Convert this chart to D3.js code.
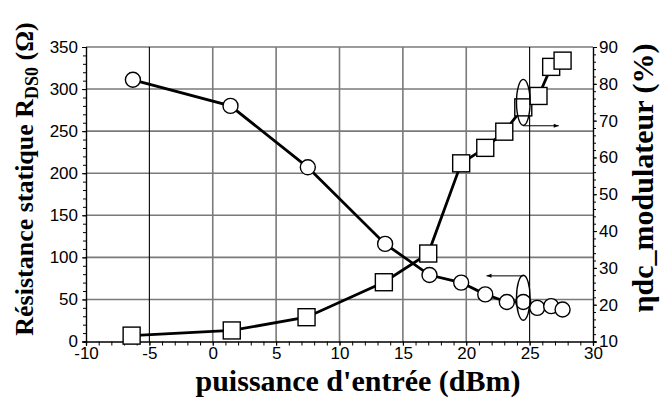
<!DOCTYPE html>
<html>
<head>
<meta charset="utf-8">
<script src="https://cdn.jsdelivr.net/npm/d3@7"></script>
<style>
  body { margin: 0; background: #fff; }
  .tick text { font-family: 'Liberation Sans', Arial, sans-serif; font-size: 17px; fill: #000; }
  .axis-name { font-family: 'Liberation Serif', 'Times New Roman', serif; font-weight: bold; fill: #000; }
</style>
</head>
<body>
<div id="chart"></div>
<script>
// input power (dBm) and static resistance (ohm) - circles, left axis
const pinR = [-6.3, 1.4, 7.5, 13.6, 17.1, 19.6, 21.5, 23.2, 24.5, 25.6, 26.7, 27.6];
const resistance = [311, 280, 207, 116, 79, 70, 56, 47, 47, 40, 42, 38];

// input power (dBm) and modulator efficiency (%) - squares, right axis
const pinEta = [-6.4, 1.5, 7.4, 13.5, 17.0, 19.6, 21.5, 23.0, 24.5, 25.7, 26.7, 27.6];
const efficiency = [11.6, 13.0, 16.6, 26.1, 33.9, 58.4, 62.6, 67.0, 73.6, 76.7, 84.6, 86.3];

const xTicks = [-10, -5, 0, 5, 10, 15, 20, 25, 30];
const yLeftTicks = [0, 50, 100, 150, 200, 250, 300, 350];
const yRightTicks = [10, 20, 30, 40, 50, 60, 70, 80, 90];

const width = 661;
const height = 401;
const margin = { t: 47, r: 68, b: 59.5, l: 86 };

const svg = d3
  .select('#chart')
  .append('svg')
  .attr('width', width)
  .attr('height', height);

const x = d3.scaleLinear().domain([-10, 30]).range([margin.l, width - margin.r]);
const yL = d3.scaleLinear().domain([0, 350]).range([height - margin.b, margin.t]);
const yR = d3.scaleLinear().domain([10, 90]).range([height - margin.b, margin.t]);

// grid
svg
  .append('g')
  .selectAll('line')
  .data(yLeftTicks.slice(1))
  .join('line')
  .attr('x1', x(-10))
  .attr('x2', x(30))
  .attr('y1', (d) => yL(d))
  .attr('y2', (d) => yL(d))
  .attr('stroke', '#7a7a7a')
  .attr('stroke-width', 1.6);

svg
  .append('g')
  .selectAll('line')
  .data(xTicks.slice(1, -1))
  .join('line')
  .attr('x1', (d) => x(d))
  .attr('x2', (d) => x(d))
  .attr('y1', yL(0))
  .attr('y2', yL(350))
  .attr('stroke', (d) => (d === -5 || d === 25 ? '#000' : '#7a7a7a'))
  .attr('stroke-width', (d) => (d === -5 || d === 25 ? 1.1 : 1.6));

// axes
function styleAxis(g) {
  g.select('.domain').attr('stroke', '#000').attr('stroke-width', 1.2);
  g.selectAll('.tick line').attr('stroke', '#000').attr('stroke-width', 1);
}

const range = (a, b, s) => d3.range(a, b + s / 2, s);
const plain = (d) => String(d); // keep the short hyphen for negatives

svg.append('g')
  .attr('transform', `translate(0, ${yL(0)})`)
  .call(d3.axisBottom(x).tickValues(range(-10, 30, 1)).tickSize(4).tickFormat(''))
  .call(styleAxis);
svg.append('g')
  .attr('transform', `translate(0, ${yL(0)})`)
  .call(d3.axisBottom(x).tickValues(xTicks).tickSize(4).tickPadding(1).tickFormat(plain))
  .call(styleAxis);

svg.append('g')
  .attr('transform', `translate(${x(-10)}, 0)`)
  .call(d3.axisLeft(yL).tickValues(range(0, 350, 10)).tickSize(3).tickFormat(''))
  .call(styleAxis);
svg.append('g')
  .attr('transform', `translate(${x(-10)}, 0)`)
  .call(d3.axisLeft(yL).tickValues(yLeftTicks).tickSize(4).tickPadding(4).tickFormat(plain))
  .call(styleAxis);

svg.append('g')
  .attr('transform', `translate(${x(30)}, 0)`)
  .call(d3.axisRight(yR).tickValues(range(10, 90, 2)).tickSize(3).tickFormat(''))
  .call(styleAxis);
svg.append('g')
  .attr('transform', `translate(${x(30)}, 0)`)
  .call(d3.axisRight(yR).tickValues(yRightTicks).tickSize(4).tickPadding(2).tickFormat(plain))
  .call(styleAxis);

svg.selectAll('.tick text').attr('fill', '#000');

// series lines
const resData = pinR.map((p, i) => ({ p, v: resistance[i] }));
const etaData = pinEta.map((p, i) => ({ p, v: efficiency[i] }));

const lineR = d3.line().x((d) => x(d.p)).y((d) => yL(d.v));
const lineE = d3.line().x((d) => x(d.p)).y((d) => yR(d.v));

svg.append('path')
  .attr('d', lineR(resData))
  .attr('fill', 'none')
  .attr('stroke', '#000')
  .attr('stroke-width', 2.8);
svg.append('path')
  .attr('d', lineE(etaData))
  .attr('fill', 'none')
  .attr('stroke', '#000')
  .attr('stroke-width', 2.8);

// markers
svg.append('g')
  .selectAll('circle')
  .data(resData)
  .join('circle')
  .attr('cx', (d) => x(d.p))
  .attr('cy', (d) => yL(d.v))
  .attr('r', 7.5)
  .attr('fill', '#fff')
  .attr('stroke', '#000')
  .attr('stroke-width', 1.4);

const sq = 17;
svg.append('g')
  .selectAll('rect')
  .data(etaData)
  .join('rect')
  .attr('x', (d) => x(d.p) - sq / 2)
  .attr('y', (d) => yR(d.v) - sq / 2)
  .attr('width', sq)
  .attr('height', sq)
  .attr('fill', '#fff')
  .attr('stroke', '#000')
  .attr('stroke-width', 1.4);

// annotations: ellipses + arrows pointing to the axis each series uses
svg.append('defs')
  .append('marker')
  .attr('id', 'arrow')
  .attr('viewBox', '0 0 10 10')
  .attr('refX', 10)
  .attr('refY', 5)
  .attr('markerWidth', 7)
  .attr('markerHeight', 5)
  .attr('orient', 'auto')
  .append('path')
  .attr('d', 'M0,1 L10,5 L0,9 Z')
  .attr('fill', '#000');

svg.append('ellipse')
  .attr('cx', x(24.5))
  .attr('cy', yR(73.6) - 5)
  .attr('rx', 6.8)
  .attr('ry', 23)
  .attr('fill', 'none')
  .attr('stroke', '#000')
  .attr('stroke-width', 1.4);
svg.append('line')
  .attr('x1', x(24.5))
  .attr('x2', x(27.3))
  .attr('y1', yR(68.6))
  .attr('y2', yR(68.6))
  .attr('stroke', '#000')
  .attr('stroke-width', 1)
  .attr('marker-end', 'url(#arrow)');

svg.append('ellipse')
  .attr('cx', x(24.5))
  .attr('cy', yL(52))
  .attr('rx', 6.8)
  .attr('ry', 22.5)
  .attr('fill', 'none')
  .attr('stroke', '#000')
  .attr('stroke-width', 1.4);
svg.append('line')
  .attr('x1', x(24.5))
  .attr('x2', x(21.6))
  .attr('y1', yL(78))
  .attr('y2', yL(78))
  .attr('stroke', '#000')
  .attr('stroke-width', 1)
  .attr('marker-end', 'url(#arrow)');

// x-axis name
svg.append('text')
  .attr('class', 'axis-name')
  .attr('x', 358)
  .attr('y', 391)
  .attr('text-anchor', 'middle')
  .style('font-size', '30px')
  .text("puissance d'entrée (dBm)");

// left y-axis name
const tl = svg.append('text')
  .attr('class', 'axis-name')
  .attr('transform', 'translate(33, 179) rotate(-90)')
  .attr('text-anchor', 'middle')
  .style('font-size', '26px');
tl.append('tspan').text('Résistance statique R');
tl.append('tspan').attr('dy', 5).style('font-size', '18px').text('DS0');
tl.append('tspan').attr('dy', -5).text(' (Ω)');

// right y-axis name
svg.append('text')
  .attr('class', 'axis-name')
  .attr('transform', 'translate(653, 178) rotate(-90)')
  .attr('text-anchor', 'middle')
  .style('font-size', '30px')
  .text('ηdc_modulateur (%)');
</script>
</body>
</html>
